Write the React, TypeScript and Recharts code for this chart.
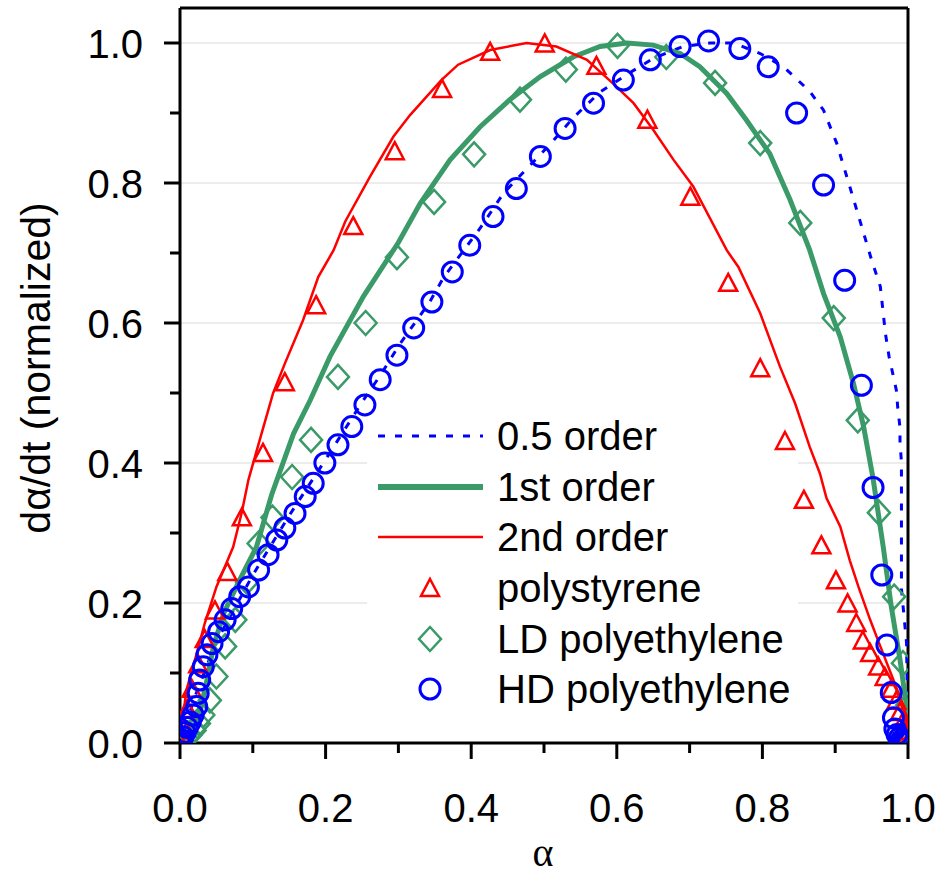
import React from "react";
import {
  ComposedChart, Line, Scatter, XAxis, YAxis, ReferenceLine, Legend,
} from "recharts";

const FONT = '"Liberation Sans", Arial, Helvetica, sans-serif';
const BLUE = "#0000ff";
const GREEN = "#3a9a68";
const RED = "#ff0000";

const TICKS = [0, 0.1, 0.2, 0.3, 0.4, 0.5, 0.6, 0.7, 0.8, 0.9, 1.0];
const GRID_FULL = [0.6, 0.8, 1.0];
const GRID_SPLIT = [0.2, 0.4];
const LEGEND_LABELS = ["0.5 order", "1st order", "2nd order", "polystyrene", "LD polyethylene", "HD polyethylene"];

// model curves, [alpha, normalized rate]
const HALF_ORDER: [number, number][] = [
  [0, 0], [0.02, 0.065], [0.05, 0.145], [0.1, 0.24], [0.15, 0.325], [0.2, 0.405],
  [0.252, 0.49], [0.275, 0.525], [0.302, 0.57], [0.343, 0.63], [0.362, 0.665], [0.412, 0.735],
  [0.444, 0.785], [0.508, 0.855], [0.54, 0.893], [0.577, 0.93], [0.614, 0.955], [0.65, 0.978],
  [0.691, 0.995], [0.728, 1.0], [0.76, 1.0], [0.797, 0.985], [0.829, 0.966], [0.865, 0.931],
  [0.884, 0.904], [0.902, 0.857], [0.92, 0.795], [0.95, 0.69], [0.962, 0.652], [0.969, 0.585],
  [0.974, 0.552], [0.979, 0.528], [0.984, 0.504], [0.986, 0.478], [0.989, 0.451], [0.989, 0.43],
  [0.991, 0.401], [0.991, 0.22], [0.998, 0.143], [1.0, 0.0],
];

const FIRST_ORDER: [number, number][] = [
  [0, 0], [0.015, 0.015], [0.027, 0.042], [0.037, 0.09], [0.046, 0.138], [0.06, 0.185],
  [0.082, 0.233], [0.105, 0.28], [0.126, 0.355], [0.156, 0.442], [0.179, 0.49], [0.206, 0.552],
  [0.252, 0.638], [0.3, 0.715], [0.33, 0.771], [0.371, 0.833], [0.412, 0.88], [0.453, 0.919],
  [0.495, 0.952], [0.54, 0.98], [0.577, 0.995], [0.614, 1.0], [0.65, 0.997], [0.687, 0.985],
  [0.714, 0.966], [0.751, 0.928], [0.778, 0.89], [0.81, 0.842], [0.838, 0.776], [0.865, 0.704],
  [0.884, 0.642], [0.907, 0.58], [0.925, 0.514], [0.939, 0.452], [0.952, 0.378], [0.966, 0.28],
  [0.977, 0.195], [0.989, 0.119], [0.998, 0.052], [1.0, 0.0],
];

const SECOND_ORDER: [number, number][] = [
  [0, 0], [0.003, 0.03], [0.009, 0.076], [0.023, 0.128], [0.034, 0.171], [0.05, 0.223],
  [0.073, 0.28], [0.085, 0.33], [0.094, 0.376], [0.112, 0.442], [0.128, 0.5], [0.144, 0.542],
  [0.169, 0.604], [0.19, 0.666], [0.211, 0.704], [0.227, 0.745], [0.261, 0.809], [0.293, 0.866],
  [0.316, 0.897], [0.359, 0.947], [0.382, 0.969], [0.426, 0.99], [0.476, 1.0], [0.517, 0.995],
  [0.559, 0.976], [0.595, 0.942], [0.623, 0.914], [0.65, 0.876], [0.678, 0.833], [0.705, 0.795],
  [0.751, 0.704], [0.767, 0.68], [0.797, 0.614], [0.824, 0.538], [0.845, 0.485], [0.865, 0.423],
  [0.879, 0.385], [0.888, 0.35], [0.907, 0.309], [0.92, 0.261], [0.932, 0.223], [0.948, 0.176],
  [0.962, 0.138], [0.98, 0.09], [0.994, 0.052], [1.0, 0.02],
];

// measured samples
const POLYSTYRENE: [number, number][] = [
  [0, 0], [0.002, 0.008], [0.005, 0.022], [0.01, 0.047], [0.016, 0.076], [0.025, 0.111],
  [0.034, 0.147], [0.048, 0.188], [0.065, 0.243], [0.085, 0.321], [0.114, 0.413], [0.144, 0.514],
  [0.187, 0.624], [0.238, 0.737], [0.295, 0.844], [0.36, 0.933], [0.426, 0.986], [0.501, 0.998],
  [0.572, 0.966], [0.642, 0.889], [0.701, 0.779], [0.753, 0.656], [0.797, 0.534], [0.831, 0.43],
  [0.857, 0.346], [0.881, 0.281], [0.901, 0.231], [0.917, 0.198], [0.929, 0.17], [0.938, 0.145],
  [0.948, 0.127], [0.959, 0.108], [0.968, 0.093], [0.977, 0.076], [0.984, 0.059], [0.989, 0.043],
  [0.993, 0.029], [0.996, 0.016], [0.998, 0.007], [1.0, 0.001],
];

const LD_PE: [number, number][] = [
  [0, 0], [0.004, 0.003], [0.009, 0.007], [0.014, 0.011], [0.02, 0.018], [0.026, 0.028],
  [0.032, 0.04], [0.041, 0.061], [0.05, 0.095], [0.062, 0.138], [0.076, 0.176], [0.092, 0.23],
  [0.108, 0.285], [0.127, 0.322], [0.154, 0.38], [0.18, 0.433], [0.217, 0.523], [0.255, 0.6],
  [0.298, 0.694], [0.349, 0.773], [0.404, 0.841], [0.467, 0.919], [0.53, 0.962], [0.601, 0.996],
  [0.668, 0.98], [0.735, 0.943], [0.797, 0.857], [0.852, 0.743], [0.898, 0.607], [0.931, 0.461],
  [0.96, 0.329], [0.981, 0.209], [0.993, 0.114], [0.999, 0.054], [1.0, 0.012],
];

const HD_PE: [number, number][] = [
  [0, 0], [0.002, 0.004], [0.004, 0.009], [0.007, 0.015], [0.01, 0.022], [0.014, 0.03],
  [0.018, 0.04], [0.023, 0.052], [0.025, 0.071], [0.027, 0.09], [0.032, 0.109], [0.037, 0.126],
  [0.044, 0.142], [0.053, 0.159], [0.062, 0.176], [0.071, 0.192], [0.082, 0.209], [0.094, 0.223],
  [0.108, 0.247], [0.121, 0.269], [0.133, 0.29], [0.144, 0.307], [0.158, 0.328], [0.172, 0.352],
  [0.183, 0.371], [0.199, 0.4], [0.217, 0.426], [0.236, 0.452], [0.254, 0.483], [0.275, 0.519],
  [0.298, 0.554], [0.321, 0.593], [0.346, 0.63], [0.374, 0.673], [0.398, 0.711], [0.43, 0.752],
  [0.462, 0.792], [0.495, 0.838], [0.529, 0.878], [0.568, 0.914], [0.609, 0.947], [0.646, 0.976],
  [0.687, 0.995], [0.726, 1.003], [0.769, 0.992], [0.808, 0.966], [0.847, 0.9], [0.884, 0.797],
  [0.913, 0.661], [0.936, 0.511], [0.952, 0.365], [0.964, 0.24], [0.971, 0.14], [0.977, 0.072],
  [0.98, 0.036], [0.982, 0.02], [0.985, 0.012], [0.988, 0.007], [0.991, 0.004], [0.994, 0.002],
  [0.997, 0.001], [1.0, 0],
];

const toRows = (pts: [number, number][]) => pts.map(([x, y]) => ({ x, y }));

const GAP = [0.257, 0.849]; // where the legend box interrupts the grid

function Tri({ cx, cy }: any) {
  return <path d={`M${cx},${cy - 10}L${cx + 9},${cy + 7}L${cx - 9},${cy + 7}Z`} fill="none" stroke={RED} strokeWidth={2.5} />;
}
function Dia({ cx, cy }: any) {
  return <path d={`M${cx},${cy - 12}L${cx + 11},${cy}L${cx},${cy + 12}L${cx - 11},${cy}Z`} fill="none" stroke={GREEN} strokeWidth={2.5} />;
}
function Circ({ cx, cy }: any) {
  return <circle cx={cx} cy={cy} r={10} fill="none" stroke={BLUE} strokeWidth={3} />;
}

function XTick({ x, y, payload }: any) {
  const major = Math.round(payload.value * 10) % 2 === 0;
  return (
    <g>
      <line x1={x} x2={x} y1={y} y2={y + (major ? 16 : 10)} stroke="#000" strokeWidth={3} />
      {major && (
        <text x={x} y={y + 79} textAnchor="middle" fontSize={40} fontFamily={FONT} fill="#000">
          {payload.value.toFixed(1)}
        </text>
      )}
    </g>
  );
}

function YTick({ x, y, payload }: any) {
  const major = Math.round(payload.value * 10) % 2 === 0;
  return (
    <g>
      <line x1={x - (major ? 16 : 10)} x2={x} y1={y} y2={y} stroke="#000" strokeWidth={3} />
      {major && (
        <text x={x - 37} y={y + 14.5} textAnchor="end" fontSize={40} fontFamily={FONT} fill="#000">
          {payload.value.toFixed(1)}
        </text>
      )}
    </g>
  );
}

function sample(i: number) {
  if (i === 0) return <line x1={0} x2={105} y1={20} y2={20} stroke={BLUE} strokeWidth={3} strokeDasharray="7 10" />;
  if (i === 1) return <line x1={0} x2={105} y1={20} y2={20} stroke={GREEN} strokeWidth={6} />;
  if (i === 2) return <line x1={0} x2={105} y1={20} y2={20} stroke={RED} strokeWidth={2.5} />;
  if (i === 3) return <Tri cx={52} cy={21} />;
  if (i === 4) return <Dia cx={52} cy={20} />;
  return <Circ cx={52} cy={20} />;
}

function LegendBox() {
  return (
    <div style={{ fontFamily: FONT, fontSize: 40, color: "#000" }}>
      {LEGEND_LABELS.map((label, i) => (
        <div key={label} style={{ display: "flex", alignItems: "center", height: 50.6 }}>
          <svg width={119} height={40} style={{ flex: "none" }}>{sample(i)}</svg>
          <span style={{ lineHeight: "40px", whiteSpace: "nowrap" }}>{label}</span>
        </div>
      ))}
    </div>
  );
}

export default function App() {
  return (
    <div style={{ position: "absolute", left: 0, top: 0, background: "#fff" }}>
      <ComposedChart width={950} height={890} margin={{ top: 8, right: 42, left: 80, bottom: 27 }}>
        <XAxis
          dataKey="x" type="number" domain={[0, 1]} ticks={TICKS} allowDataOverflow
          height={120} tickSize={0} tickMargin={0} tickLine={false} tick={<XTick />}
          axisLine={{ stroke: "#000", strokeWidth: 3 }}
          label={{
            content: () => (
              <text x={543} y={866} textAnchor="middle" fontSize={40} fontFamily='"Liberation Serif", "Times New Roman", serif' fill="#000">α</text>
            ),
          }}
        />
        <YAxis
          dataKey="y" type="number" domain={[0, 1.05]} ticks={TICKS} allowDataOverflow
          width={100} tickSize={0} tickMargin={0} tickLine={false} tick={<YTick />}
          axisLine={{ stroke: "#000", strokeWidth: 3 }}
          label={{
            content: () => (
              <text transform="translate(50,368) rotate(-90)" textAnchor="middle" fontSize={41} fontFamily={FONT} fill="#000">dα/dt (normalized)</text>
            ),
          }}
        />
        {GRID_FULL.map((v) => (
          <ReferenceLine key={`g${v}`} y={v} stroke="#e6e6e6" strokeWidth={1.5} />
        ))}
        {GRID_SPLIT.map((v) => (
          <ReferenceLine key={`a${v}`} segment={[{ x: 0, y: v }, { x: GAP[0], y: v }]} stroke="#e6e6e6" strokeWidth={1.5} />
        ))}
        {GRID_SPLIT.map((v) => (
          <ReferenceLine key={`b${v}`} segment={[{ x: GAP[1], y: v }, { x: 1, y: v }]} stroke="#e6e6e6" strokeWidth={1.5} />
        ))}
        <ReferenceLine y={1.05} stroke="#000" strokeWidth={3} />
        <ReferenceLine x={1} stroke="#000" strokeWidth={3} />

        <Line data={toRows(HALF_ORDER)} dataKey="y" type="linear" stroke={BLUE} strokeWidth={3} strokeDasharray="7 10" dot={false} activeDot={false} isAnimationActive={false} />
        <Line data={toRows(FIRST_ORDER)} dataKey="y" type="linear" stroke={GREEN} strokeWidth={5} dot={false} activeDot={false} isAnimationActive={false} />
        <Line data={toRows(SECOND_ORDER)} dataKey="y" type="linear" stroke={RED} strokeWidth={2.5} dot={false} activeDot={false} isAnimationActive={false} />
        <Scatter data={toRows(LD_PE)} dataKey="y" shape={(p: any) => <Dia {...p} />} isAnimationActive={false} />
        <Scatter data={toRows(POLYSTYRENE)} dataKey="y" shape={(p: any) => <Tri {...p} />} isAnimationActive={false} />
        <Scatter data={toRows(HD_PE)} dataKey="y" shape={(p: any) => <Circ {...p} />} isAnimationActive={false} />

        <Legend
          content={<LegendBox />}
          layout="vertical" verticalAlign="middle" align="center"
          wrapperStyle={{ left: 378, top: 411, width: 440, height: 310 }}
        />
      </ComposedChart>
    </div>
  );
}
